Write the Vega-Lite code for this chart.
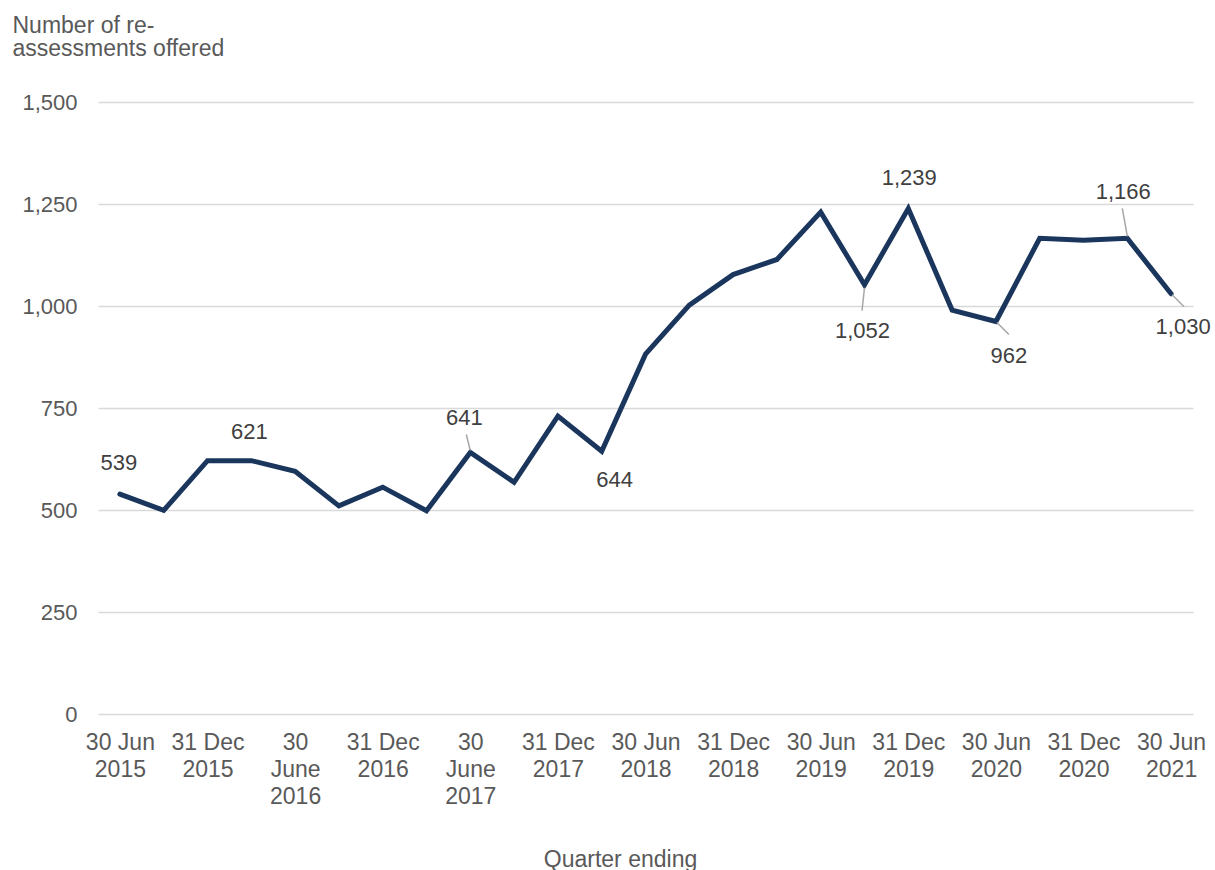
{
  "$schema": "https://vega.github.io/schema/vega-lite/v6.json",
  "width": 1095,
  "height": 612,
  "autosize": "none",
  "padding": {"left": 98, "top": 102, "right": 22, "bottom": 156},
  "background": "white",
  "config": {
    "view": {"stroke": null},
    "font": "Liberation Sans"
  },
  "data": {
    "values": [
      {"quarter": "30 Jun 2015", "value": 539},
      {"quarter": "30 Sep 2015", "value": 499},
      {"quarter": "31 Dec 2015", "value": 621},
      {"quarter": "31 Mar 2016", "value": 621},
      {"quarter": "30 Jun 2016", "value": 595},
      {"quarter": "30 Sep 2016", "value": 510},
      {"quarter": "31 Dec 2016", "value": 556},
      {"quarter": "31 Mar 2017", "value": 498},
      {"quarter": "30 Jun 2017", "value": 641},
      {"quarter": "30 Sep 2017", "value": 568},
      {"quarter": "31 Dec 2017", "value": 730},
      {"quarter": "31 Mar 2018", "value": 644},
      {"quarter": "30 Jun 2018", "value": 882},
      {"quarter": "30 Sep 2018", "value": 1002},
      {"quarter": "31 Dec 2018", "value": 1077},
      {"quarter": "31 Mar 2019", "value": 1114},
      {"quarter": "30 Jun 2019", "value": 1230},
      {"quarter": "30 Sep 2019", "value": 1052},
      {"quarter": "31 Dec 2019", "value": 1239},
      {"quarter": "31 Mar 2020", "value": 990},
      {"quarter": "30 Jun 2020", "value": 962},
      {"quarter": "30 Sep 2020", "value": 1166},
      {"quarter": "31 Dec 2020", "value": 1161},
      {"quarter": "31 Mar 2021", "value": 1166},
      {"quarter": "30 Jun 2021", "value": 1030}
    ]
  },
  "encoding": {
    "x": {
      "field": "quarter",
      "type": "ordinal",
      "sort": null,
      "scale": {"type": "point", "padding": 0.5},
      "axis": {
        "title": "Quarter ending",
        "titleFontSize": 23,
        "titleFontWeight": "normal",
        "titleColor": "#595959",
        "titleX": 522,
        "titleY": 152,
        "titleAnchor": null,
        "titleAlign": "center",
        "titleBaseline": "alphabetic",
        "values": ["30 Jun 2015", "31 Dec 2015", "30 Jun 2016", "31 Dec 2016", "30 Jun 2017", "31 Dec 2017", "30 Jun 2018", "31 Dec 2018", "30 Jun 2019", "31 Dec 2019", "30 Jun 2020", "31 Dec 2020", "30 Jun 2021"],
        "labelExpr": "datum.label == '30 Jun 2016' ? ['30', 'June', '2016'] : datum.label == '30 Jun 2017' ? ['30', 'June', '2017'] : [slice(datum.label, 0, -5), slice(datum.label, -4)]",
        "labelAngle": 0,
        "labelAlign": "center",
        "labelBaseline": "top",
        "labelFontSize": 23,
        "labelLineHeight": 27,
        "labelColor": "#595959",
        "labelPadding": 17,
        "labelOverlap": false,
        "labelBound": false,
        "labelFlush": false,
        "ticks": false,
        "domain": false,
        "grid": false
      }
    },
    "y": {
      "field": "value",
      "type": "quantitative",
      "scale": {"domain": [0, 1500], "nice": false},
      "axis": {
        "title": ["Number of re-", "assessments offered"],
        "titleAngle": 0,
        "titleAlign": "left",
        "titleAnchor": null,
        "titleBaseline": "alphabetic",
        "titleX": -86,
        "titleY": -70,
        "titleFontSize": 23,
        "titleFontWeight": "normal",
        "titleColor": "#595959",
        "titleLineHeight": 23.5,
        "values": [0, 250, 500, 750, 1000, 1250, 1500],
        "format": ",d",
        "labelFontSize": 22,
        "labelColor": "#595959",
        "labelPadding": 21,
        "ticks": false,
        "domain": false,
        "grid": true,
        "gridColor": "#d9d9d9",
        "gridWidth": 1.5
      }
    }
  },
  "layer": [
    {
      "mark": {"type": "line", "color": "#1b365d", "strokeWidth": 5, "strokeCap": "round"}
    },
    {
      "transform": [{"filter": {"field": "quarter", "equal": "30 Jun 2017"}}],
      "mark": {"type": "rule", "color": "#a6a6a6", "strokeWidth": 1.5, "xOffset": -4, "yOffset": -18, "x2Offset": 0, "y2Offset": -2},
      "encoding": {"x2": {"field": "quarter"}, "y2": {"field": "value"}}
    },
    {
      "transform": [{"filter": {"field": "quarter", "equal": "31 Mar 2021"}}],
      "mark": {"type": "rule", "color": "#a6a6a6", "strokeWidth": 1.5, "xOffset": -5, "yOffset": -30, "x2Offset": 0, "y2Offset": -2},
      "encoding": {"x2": {"field": "quarter"}, "y2": {"field": "value"}}
    },
    {
      "transform": [{"filter": {"field": "quarter", "equal": "30 Sep 2019"}}],
      "mark": {"type": "rule", "color": "#a6a6a6", "strokeWidth": 1.5, "xOffset": 0, "yOffset": 3, "x2Offset": -2.5, "y2Offset": 26},
      "encoding": {"x2": {"field": "quarter"}, "y2": {"field": "value"}}
    },
    {
      "transform": [{"filter": {"field": "quarter", "oneOf": ["30 Jun 2020", "30 Jun 2021"]}}],
      "mark": {"type": "rule", "color": "#a6a6a6", "strokeWidth": 1.5, "xOffset": 1, "yOffset": 1, "x2Offset": 13, "y2Offset": 13},
      "encoding": {"x2": {"field": "quarter"}, "y2": {"field": "value"}}
    },
    {
      "transform": [{"filter": {"field": "quarter", "equal": "30 Jun 2015"}}],
      "mark": {"type": "text", "fontSize": 22, "color": "#404040", "baseline": "middle", "align": "center", "dx": -1, "dy": -31},
      "encoding": {"text": {"field": "value", "type": "quantitative", "format": ",d"}}
    },
    {
      "transform": [{"filter": {"field": "quarter", "equal": "31 Mar 2016"}}],
      "mark": {"type": "text", "fontSize": 22, "color": "#404040", "baseline": "middle", "align": "center", "dx": -2, "dy": -29},
      "encoding": {"text": {"field": "value", "type": "quantitative", "format": ",d"}}
    },
    {
      "transform": [{"filter": {"field": "quarter", "equal": "30 Jun 2017"}}],
      "mark": {"type": "text", "fontSize": 22, "color": "#404040", "baseline": "middle", "align": "center", "dx": -6, "dy": -34},
      "encoding": {"text": {"field": "value", "type": "quantitative", "format": ",d"}}
    },
    {
      "transform": [{"filter": {"field": "quarter", "equal": "31 Mar 2018"}}],
      "mark": {"type": "text", "fontSize": 22, "color": "#404040", "baseline": "middle", "align": "center", "dx": 13, "dy": 29},
      "encoding": {"text": {"field": "value", "type": "quantitative", "format": ",d"}}
    },
    {
      "transform": [{"filter": {"field": "quarter", "equal": "30 Sep 2019"}}],
      "mark": {"type": "text", "fontSize": 22, "color": "#404040", "baseline": "middle", "align": "center", "dx": -2, "dy": 46},
      "encoding": {"text": {"field": "value", "type": "quantitative", "format": ",d"}}
    },
    {
      "transform": [{"filter": {"field": "quarter", "equal": "31 Dec 2019"}}],
      "mark": {"type": "text", "fontSize": 22, "color": "#404040", "baseline": "middle", "align": "center", "dx": 1, "dy": -30},
      "encoding": {"text": {"field": "value", "type": "quantitative", "format": ",d"}}
    },
    {
      "transform": [{"filter": {"field": "quarter", "equal": "30 Jun 2020"}}],
      "mark": {"type": "text", "fontSize": 22, "color": "#404040", "baseline": "middle", "align": "center", "dx": 13, "dy": 34},
      "encoding": {"text": {"field": "value", "type": "quantitative", "format": ",d"}}
    },
    {
      "transform": [{"filter": {"field": "quarter", "equal": "31 Mar 2021"}}],
      "mark": {"type": "text", "fontSize": 22, "color": "#404040", "baseline": "middle", "align": "center", "dx": -4, "dy": -46},
      "encoding": {"text": {"field": "value", "type": "quantitative", "format": ",d"}}
    },
    {
      "transform": [{"filter": {"field": "quarter", "equal": "30 Jun 2021"}}],
      "mark": {"type": "text", "fontSize": 22, "color": "#404040", "baseline": "middle", "align": "center", "dx": 12, "dy": 33},
      "encoding": {"text": {"field": "value", "type": "quantitative", "format": ",d"}}
    }
  ]
}
